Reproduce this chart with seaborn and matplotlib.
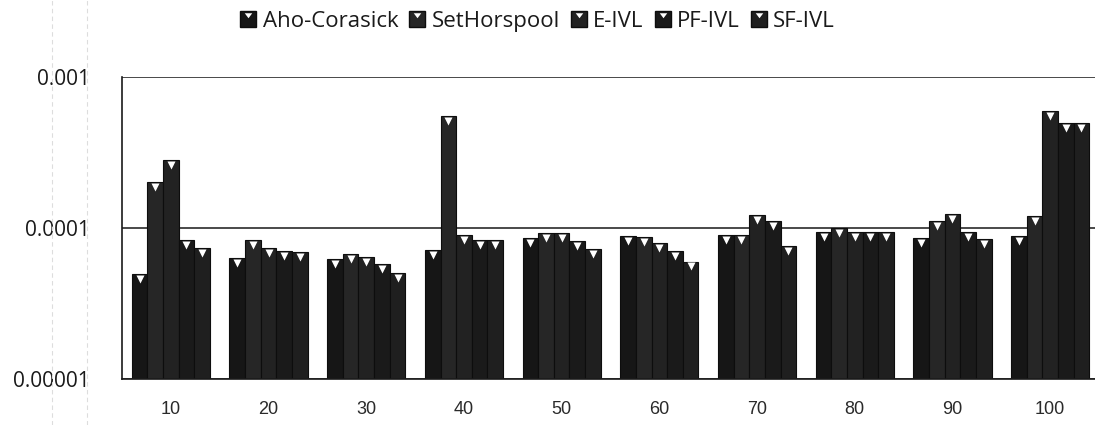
import numpy as np
import pandas as pd
import matplotlib
matplotlib.use("Agg")
import matplotlib.pyplot as plt
import matplotlib.transforms as mtransforms
from matplotlib.lines import Line2D
from matplotlib.path import Path
import seaborn as sns

sns.set_theme(style="white")
plt.rcParams["font.family"] = ["Open Sans", "DejaVu Sans"]

# Values (seconds, log axis)
pattern_counts = ["10", "20", "30", "40", "50", "60", "70", "80", "90", "100"]
algorithms = ["Aho-Corasick", "SetHorspool", "E-IVL", "PF-IVL", "SF-IVL"]

aho_corasick = [4.95e-5, 6.3e-5, 6.2e-5, 7.15e-5, 8.6e-5, 8.85e-5, 9.0e-5, 9.4e-5, 8.6e-5, 8.85e-5]
set_horspool = [2.02e-4, 8.3e-5, 6.7e-5, 5.5e-4, 9.3e-5, 8.7e-5, 9.0e-5, 1.0e-4, 1.11e-4, 1.2e-4]
e_ivl = [2.82e-4, 7.4e-5, 6.4e-5, 9.0e-5, 9.3e-5, 7.95e-5, 1.22e-4, 9.4e-5, 1.24e-4, 5.95e-4]
pf_ivl = [8.3e-5, 7.05e-5, 5.8e-5, 8.3e-5, 8.2e-5, 7.05e-5, 1.11e-4, 9.4e-5, 9.4e-5, 4.96e-4]
sf_ivl = [7.4e-5, 6.9e-5, 5.0e-5, 8.3e-5, 7.3e-5, 6.0e-5, 7.6e-5, 9.4e-5, 8.45e-5, 4.96e-4]

bar_colors = ["#161616", "#262626", "#222222", "#1a1a1a", "#1f1f1f"]

series = [aho_corasick, set_horspool, e_ivl, pf_ivl, sf_ivl]
df = pd.concat(
    [pd.DataFrame({"patterns": pattern_counts, "algorithm": name, "time": vals})
     for name, vals in zip(algorithms, series)],
    ignore_index=True,
)

fig = plt.figure(figsize=(10.95, 4.25), dpi=100)
ax = fig.add_axes([0.1114, 0.1082, 0.8923, 0.7106])

sns.barplot(data=df, x="patterns", y="time", hue="algorithm",
            order=pattern_counts, hue_order=algorithms,
            palette=dict(zip(algorithms, bar_colors)),
            width=0.8, saturation=1, edgecolor="#0d0d0d", linewidth=0.8,
            ax=ax, legend=False)
ax.set_yscale("log")
ax.set_ylim(1e-5, 1e-3)
ax.set_xlim(-0.5, 9.5)

# white notch on top of each bar
notch = mtransforms.offset_copy(ax.transData, fig=fig, y=-3.5, units="points")
for p in ax.patches:
    if p.get_height() > 0:
        ax.plot(p.get_x() + p.get_width() / 2, p.get_height(), marker="v",
                color="white", ms=5.5, mec="none", transform=notch, zorder=5)

# axes styling
for side in ["top", "right"]:
    ax.spines[side].set_visible(False)
for side in ["left", "bottom"]:
    ax.spines[side].set_color("#1a1a1a")
    ax.spines[side].set_linewidth(1.2)
ax.yaxis.grid(True, which="major", color="#2a2a2a", linewidth=1.2)
ax.set_axisbelow(True)

ax.set_yticks([1e-5, 1e-4, 1e-3])
ax.set_yticklabels(["0.00001", "0.0001", "0.001"])
ax.yaxis.set_minor_locator(matplotlib.ticker.NullLocator())
ax.tick_params(axis="y", which="major", direction="inout", length=12.5,
               width=1, color="#1a1a1a", pad=17, labelsize=15, labelcolor="#1a1a1a")

ax.set_xticks(np.arange(-0.5, 10, 1))
ax.set_xticklabels([])
ax.set_xticks(np.arange(len(pattern_counts)), minor=True)
ax.set_xticklabels(pattern_counts, minor=True, fontfamily="Liberation Sans")
ax.tick_params(axis="x", which="major", direction="out", length=5, width=1,
               color="#1a1a1a")
ax.tick_params(axis="x", which="minor", length=0, pad=16, labelsize=13,
               labelcolor="#2a2a2a")
ax.set_xlabel("")
ax.set_ylabel("")

# legend with notched square markers
notch_path = Path([(-0.6, 1.0), (0.6, 1.0), (0.0, 0.2), (-0.6, 1.0)])
handles = [
    (Line2D([], [], ls="", marker="s", ms=11, color=c, mec="#0d0d0d"),
     Line2D([], [], ls="", marker=notch_path, ms=9, color="white", mec="none"))
    for c in bar_colors
]
fig.legend(handles, algorithms, loc="center", bbox_to_anchor=(0.491, 0.95),
           ncol=5, frameon=False, fontsize=16, handlelength=0.7,
           handletextpad=0.3, columnspacing=0.5, labelcolor="#1a1a1a")

# faint page fold lines from the scan
for xf in [52 / 1095, 87 / 1095]:
    fig.add_artist(Line2D([xf, xf], [0.0, 1.0], transform=fig.transFigure,
                          color="#dddddd", lw=0.8, ls=(0, (4, 3))))

fig.savefig("out.png", dpi=100)
